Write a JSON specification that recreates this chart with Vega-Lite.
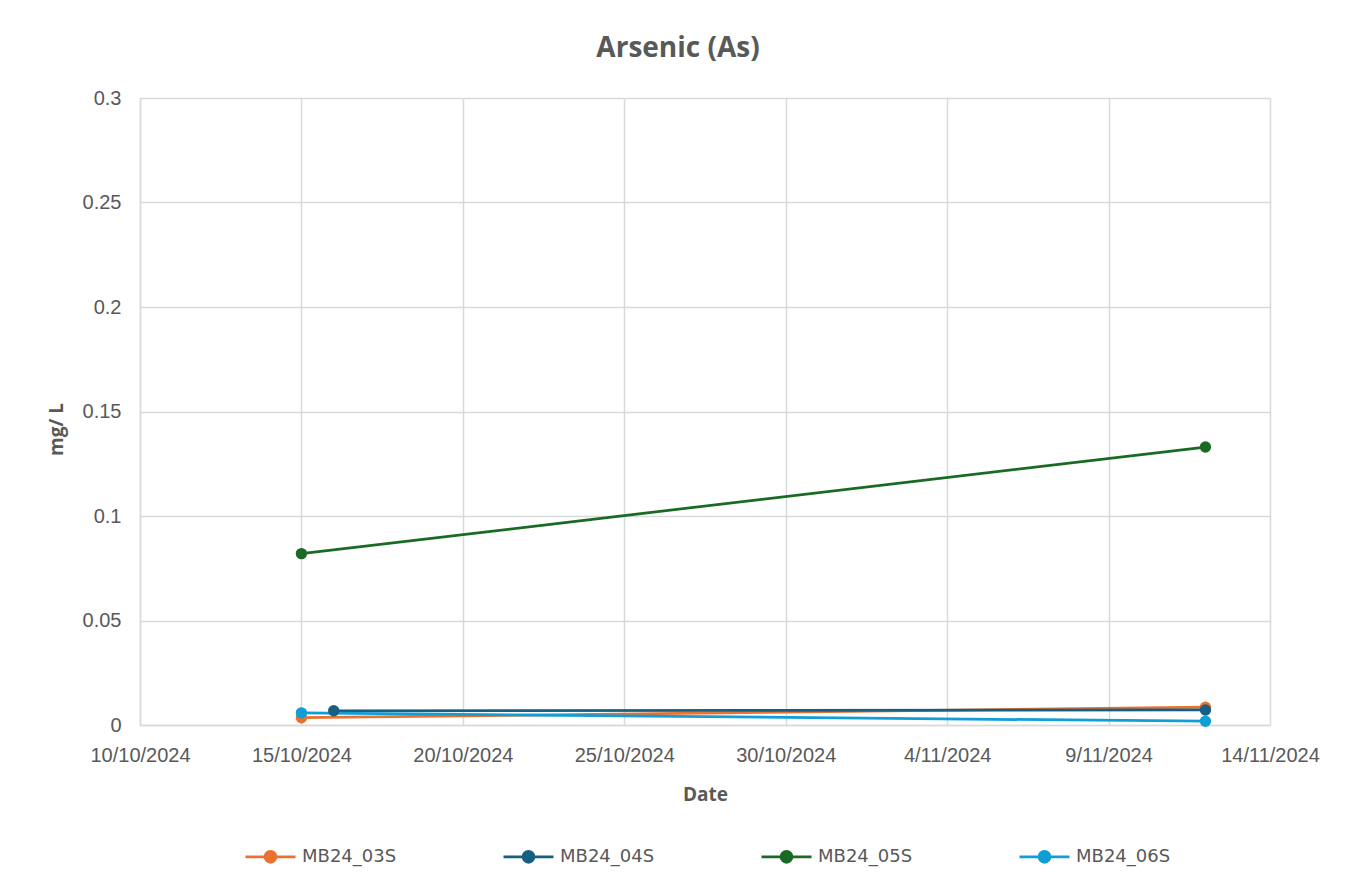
{
  "$schema": "https://vega.github.io/schema/vega-lite/v6.json",
  "autosize": {"type": "none"},
  "width": 1130,
  "height": 627,
  "padding": {"left": 140, "top": 98, "right": 89, "bottom": 160},
  "background": "white",
  "title": {
    "text": "Arsenic (As)",
    "font": "Open Sans",
    "fontSize": 28,
    "fontWeight": "bold",
    "color": "#595959",
    "anchor": "middle",
    "frame": "group",
    "dx": -27,
    "offset": 25
  },
  "config": {
    "view": {"stroke": null},
    "font": "Open Sans"
  },
  "data": {
    "values": [
      {"date": "2024-10-15", "series": "MB24_03S", "value": 0.0035},
      {"date": "2024-11-12", "series": "MB24_03S", "value": 0.0085},
      {"date": "2024-10-16", "series": "MB24_04S", "value": 0.0068},
      {"date": "2024-11-12", "series": "MB24_04S", "value": 0.0072},
      {"date": "2024-10-15", "series": "MB24_05S", "value": 0.082},
      {"date": "2024-11-12", "series": "MB24_05S", "value": 0.133},
      {"date": "2024-10-15", "series": "MB24_06S", "value": 0.0058},
      {"date": "2024-11-12", "series": "MB24_06S", "value": 0.0018}
    ]
  },
  "mark": {"type": "line", "strokeWidth": 2.75, "point": {"filled": true, "size": 130}},
  "encoding": {
    "x": {
      "field": "date",
      "type": "temporal",
      "scale": {"type": "utc", "domain": [{"year": 2024, "month": 10, "date": 10, "utc": true}, {"year": 2024, "month": 11, "date": 14, "utc": true}], "nice": false},
      "axis": {
        "title": "Date",
        "titleFont": "Open Sans",
        "titleFontSize": 19,
        "titleFontWeight": "bold",
        "titleColor": "#595959",
        "titlePadding": 20,
        "values": [
          {"year": 2024, "month": 10, "date": 10, "utc": true},
          {"year": 2024, "month": 10, "date": 15, "utc": true},
          {"year": 2024, "month": 10, "date": 20, "utc": true},
          {"year": 2024, "month": 10, "date": 25, "utc": true},
          {"year": 2024, "month": 10, "date": 30, "utc": true},
          {"year": 2024, "month": 11, "date": 4, "utc": true},
          {"year": 2024, "month": 11, "date": 9, "utc": true},
          {"year": 2024, "month": 11, "date": 14, "utc": true}
        ],
        "labelExpr": "utcFormat(datum.value, '%-d/%m/%Y')",
        "labelFont": "Liberation Sans",
        "labelFontSize": 20,
        "labelColor": "#595959",
        "labelPadding": 20,
        "labelFlush": false,
        "labelOverlap": false,
        "ticks": false,
        "grid": true,
        "gridColor": "#d9d9d9",
        "gridWidth": 1.5,
        "domainColor": "#d9d9d9",
        "domainWidth": 1.5
      }
    },
    "y": {
      "field": "value",
      "type": "quantitative",
      "scale": {"domain": [0, 0.3], "nice": false},
      "axis": {
        "title": "mg/ L",
        "titleFont": "Open Sans",
        "titleFontSize": 19,
        "titleFontWeight": "bold",
        "titleColor": "#595959",
        "titlePadding": 16,
        "titleY": 331,
        "values": [0, 0.05, 0.1, 0.15, 0.2, 0.25, 0.3],
        "labelExpr": "datum.value == 0 ? '0' : format(datum.value, '.2~f')",
        "labelFont": "Liberation Sans",
        "labelFontSize": 20,
        "labelColor": "#595959",
        "labelPadding": 19,
        "ticks": false,
        "grid": true,
        "gridColor": "#d9d9d9",
        "gridWidth": 1.5,
        "domainColor": "#d9d9d9",
        "domainWidth": 1.5
      }
    },
    "color": {
      "field": "series",
      "type": "nominal",
      "scale": {"domain": ["MB24_03S", "MB24_04S", "MB24_05S", "MB24_06S"], "range": ["#E97132", "#156082", "#196B24", "#0F9ED5"]},
      "legend": {
        "title": null,
        "orient": "none",
        "direction": "horizontal",
        "legendX": 104,
        "legendY": 732,
        "symbolType": "M-1,0H1M-0.22,0A0.22,0.22 0 1,1 0.22,0A0.22,0.22 0 1,1 -0.22,0Z",
        "symbolSize": 2500,
        "symbolStrokeWidth": 2.75,
        "labelFont": "DejaVu Sans",
        "labelFontSize": 18,
        "labelColor": "#595959",
        "labelOffset": 5,
        "columnPadding": 101,
        "gridAlign": "all",
        "encode": {
          "symbols": {"update": {"fill": {"scale": "color", "field": "value"}, "stroke": {"scale": "color", "field": "value"}}}
        }
      }
    }
  }
}
